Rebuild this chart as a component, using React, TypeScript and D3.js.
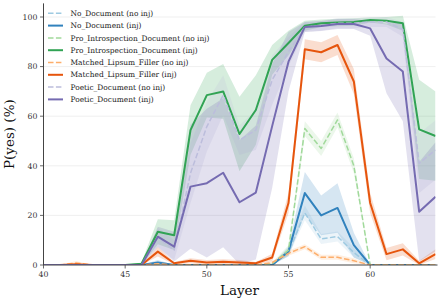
import React from 'react';
import * as d3 from 'd3';

const W = 438;
const H = 301;

const layers = d3.range(40, 65);

// mean P(yes) per layer (40..64)
const noDocNoInj = [0, 0, 0, 0, 0, 0, 0, 0.5, 0, 0, 0, 0, 0, 0, 0, 5, 21, 10.5, 11.5, 5, 0, 0, 0, 0, 0];
const noDocInj = [0, 0, 0, 0, 0, 0, 0, 1, 0, 0, 0, 0, 0, 0, 0, 5.5, 29, 20, 23, 8, 0, 0, 0, 0, 0];
const proNoInj = [0, 0, 0, 0, 0, 0, 0, 0, 0, 0, 0, 0, 0, 0, 0.5, 6, 55, 47, 58.5, 40, 0, 0, 0, 0, 0];
const proInj = [0, 0, 0, 0, 0, 0, 0.5, 13.4, 12, 54.4, 68.5, 70, 52.8, 62.5, 82.7, 89.5, 96.5, 97.5, 97.8, 98, 98.8, 98.5, 97.5, 54.7, 52];
const lipNoInj = [0, 0, 0.8, 0, 0, 0, 0, 0.5, 0, 0, 0, 0, 0, 0, 1, 4.7, 7.4, 3.1, 3.1, 1.7, 0, 0, 0, 0, 0];
const lipInj = [0, 0, 0.3, 0, 0, 0, 0, 5.4, 0.7, 1.7, 1, 1.3, 1, 0.7, 3, 25, 87, 85.8, 88.7, 74, 25, 4.4, 6.3, 0.7, 4.4];
const poeNoInj = [0, 0, 0, 0, 0, 0, 0, 11, 6, 37, 55.8, 68.5, 50.4, 54.4, 74.6, 86, 96, 96.5, 97.5, 97.5, 98, 98, 95, 41, 46.4];
const poeInj = [0, 0, 0, 0, 0, 0, 0, 11.4, 7.4, 31.6, 33, 37.2, 25.3, 29.2, 56, 82, 96, 96.4, 97.2, 97.2, 95.4, 83.3, 78, 21.5, 27.5];

// half-width of the shaded band per layer
const noDocNoInjErr = [0, 0, 0, 0, 0, 0, 0, 0.5, 0, 0, 0, 0, 0, 0, 0, 1.5, 3, 2, 2, 2, 0, 0, 0, 0, 0];
const noDocInjErr = [0, 0, 0, 0, 0, 0, 0, 1, 0, 0, 0, 0, 0, 0, 0, 2, 8.5, 8, 10, 5, 0, 0, 0, 0, 0];
const proNoInjErr = [0, 0, 0, 0, 0, 0, 0, 0, 0, 0, 0, 0, 0, 0, 0.5, 2, 3, 3, 3, 3, 0, 0, 0, 0, 0];
const proInjErr = [0, 0, 0, 0, 0, 0, 0.5, 5, 6, 10, 9, 11, 15, 14, 6, 5, 2, 1.5, 1.5, 1.5, 1, 1.5, 3, 20, 18];
const lipNoInjErr = [0, 0, 0.8, 0, 0, 0, 0, 0.5, 0, 0, 0, 0, 0, 0, 0.5, 1, 1, 1, 1, 1, 0, 0, 0, 0, 0];
const lipInjErr = [0, 0, 0.3, 0, 0, 0, 0, 2, 0.5, 1, 1, 1, 1, 0.5, 1.5, 4, 4, 4, 4, 5, 4, 2.5, 2.5, 1, 2];
const poeNoInjErr = [0, 0, 0, 0, 0, 0, 0, 4, 4, 12, 10, 8, 6, 8, 10, 6, 2, 2, 2, 2, 2, 2, 3, 12, 12];
const poeInjErr = [0, 0, 0, 0, 0, 0, 0, 4, 6, 25, 30, 30, 25, 27, 25, 12, 2, 2, 2, 2, 3, 14, 20, 20, 22];

const seriesNames = [
  'No_Document (no inj)',
  'No_Document (inj)',
  'Pro_Introspection_Document (no inj)',
  'Pro_Introspection_Document (inj)',
  'Matched_Lipsum_Filler (no inj)',
  'Matched_Lipsum_Filler (inj)',
  'Poetic_Document (no inj)',
  'Poetic_Document (inj)',
];
const seriesColors = ['#9ecae1', '#3182bd', '#a1d99b', '#31a354', '#fdae6b', '#e6550d', '#bcbddc', '#756bb1'];
const seriesValues = [noDocNoInj, noDocInj, proNoInj, proInj, lipNoInj, lipInj, poeNoInj, poeInj];
const seriesErrs = [noDocNoInjErr, noDocInjErr, proNoInjErr, proInjErr, lipNoInjErr, lipInjErr, poeNoInjErr, poeInjErr];

const xTicks = [40, 45, 50, 55, 60];
const yTicks = [0, 20, 40, 60, 80, 100];

const FONT = '"DejaVu Serif", serif';

export default function App() {
  const left = 43.5;
  const right = 435.5;
  const bottom = 265;

  const x = d3.scaleLinear().domain([40, 64]).range([left, right]);
  const y = d3.scaleLinear().domain([0, 105.5]).range([bottom, bottom - 105.5 * 2.48]);

  const line = d3.line<number>().x((_, i) => x(layers[i])).y(d => y(d));
  const band = (vals: number[], errs: number[]) =>
    d3.area<number>()
      .x((_, i) => x(layers[i]))
      .y0((_, i) => y(Math.max(0, vals[i] - errs[i])))
      .y1((_, i) => y(vals[i] + errs[i]))(vals);

  return (
    <>
      <style>{'body{margin:0}'}</style>
      <svg width={W} height={H} style={{ display: 'block', fontFamily: FONT }}>
        <defs>
          <clipPath id="plot">
            <rect x={left} y={y(105.5)} width={right - left} height={bottom - y(105.5)} />
          </clipPath>
        </defs>
        {yTicks.filter(t => t > 0).map(t => (
          <line key={t} x1={left} x2={right} y1={y(t)} y2={y(t)} stroke="#ebebeb" strokeWidth={0.8} />
        ))}
        <g clipPath="url(#plot)">
          {seriesValues.map((vals, k) => (
            <path key={'b' + k} d={band(vals, seriesErrs[k]) || ''} fill={seriesColors[k]} fillOpacity={0.2} stroke="none" />
          ))}
          {seriesValues.map((vals, k) => (
            <path
              key={'l' + k}
              d={line(vals) || ''}
              fill="none"
              stroke={seriesColors[k]}
              strokeWidth={k % 2 === 0 ? 1.5 : 2}
              strokeDasharray={k % 2 === 0 ? '5.5,2.4' : undefined}
              strokeLinejoin="round"
            />
          ))}
        </g>
        {/* axes */}
        <line x1={left} x2={left} y1={y(105.5)} y2={bottom} stroke="#444" strokeWidth={1} />
        <line x1={left} x2={right + 2} y1={bottom} y2={bottom} stroke="#444" strokeWidth={1} />
        {yTicks.map(t => (
          <g key={t}>
            <line x1={left - 3.5} x2={left} y1={y(t)} y2={y(t)} stroke="#444" strokeWidth={0.8} />
            <text x={left - 6} y={y(t)} dy="0.35em" textAnchor="end" fontSize={7.8} fill="#333">{t}</text>
          </g>
        ))}
        {xTicks.map(t => (
          <g key={t}>
            <line x1={x(t)} x2={x(t)} y1={bottom} y2={bottom + 3.5} stroke="#444" strokeWidth={0.8} />
            <text x={x(t)} y={bottom + 6} dy="0.75em" textAnchor="middle" fontSize={7.8} fill="#333">{t}</text>
          </g>
        ))}
        <text x={(left + right) / 2} y={295} textAnchor="middle" fontSize={13.5} fill="#111">Layer</text>
        <text transform={`translate(14,${(bottom + y(105.5)) / 2}) rotate(-90)`} textAnchor="middle" fontSize={13.5} fill="#111">P(yes) (%)</text>
        {/* legend */}
        {seriesNames.map((name, k) => {
          const ly = 13.3 + k * 12.3;
          return (
            <g key={name}>
              <line
                x1={48}
                x2={63}
                y1={ly}
                y2={ly}
                stroke={seriesColors[k]}
                strokeWidth={k % 2 === 0 ? 1.5 : 2}
                strokeDasharray={k % 2 === 0 ? '5.5,2.4' : undefined}
              />
              <text x={70.5} y={ly} dy="0.35em" fontSize={7.45} fill="#222">{name}</text>
            </g>
          );
        })}
      </svg>
    </>
  );
}
